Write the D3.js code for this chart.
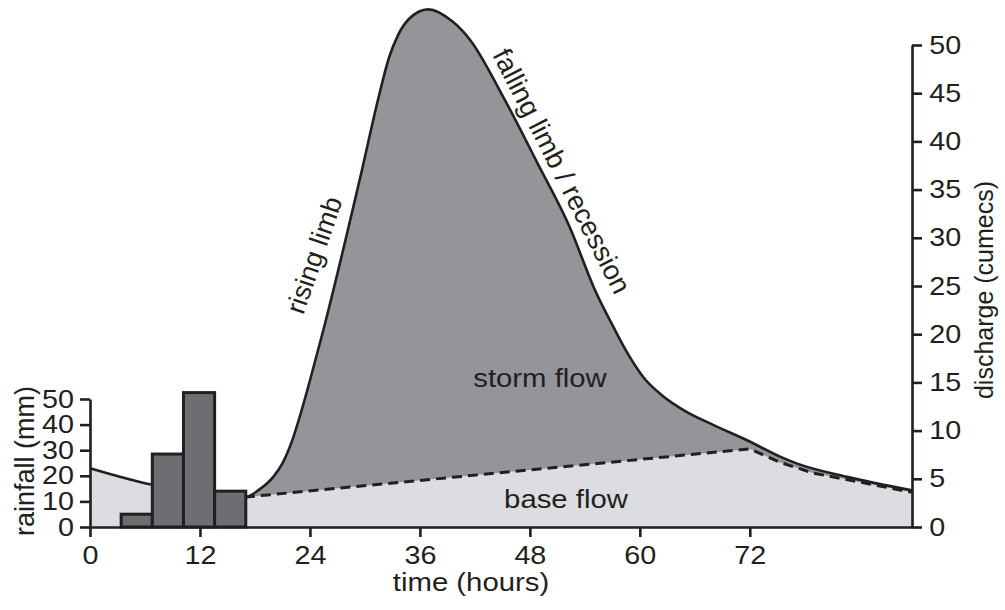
<!DOCTYPE html>
<html>
<head>
<meta charset="utf-8">
<script src="https://cdn.jsdelivr.net/npm/d3@7"></script>
<style>
body { margin: 0; background: #fff; }
text { font-family: "Liberation Sans", Arial, sans-serif; fill: #231f20; }
</style>
</head>
<body>
<svg id="chart" width="1005" height="610"></svg>
<script>
// rainfall bars: start hour of each period, length of period, mm
var rainStart = [3.4, 6.8, 10.2, 13.6];
var rainHours = 3.4;
var rainfall = [5, 28.5, 52.5, 14];

// total discharge (hydrograph), hours / cumecs
var flowTime = [0, 6.7, 16.9, 18.5, 20.0, 21.0, 22.0, 23.0, 24.0, 25.4, 29.5, 31.6, 32.6, 33.6, 34.8, 36.9, 39.6, 41.5,
                45.1, 48.8, 52.4, 55.0, 57.2, 58.8, 60.5, 62.5, 65.0, 68.0, 71.7, 75.3, 77.1, 82.6, 89.7];
var discharge = [6.1, 4.4, 3.1, 3.9, 5.2, 6.6, 8.8, 11.8, 15.2, 20.2, 36.3, 45.0, 48.6, 51.0, 52.7, 53.7, 52.4, 50.5,
                 44.6, 37.8, 31.0, 24.8, 20.6, 17.8, 15.4, 13.6, 12.0, 10.6, 9.0, 7.3, 6.6, 5.2, 3.8];

// base flow separation line (dashed)
var baseTime = [16.9, 72, 75.3, 78.9, 89.7];
var baseFlow = [3.1, 8.1, 6.7, 5.6, 3.6];

var timeTicks = [0, 12, 24, 36, 48, 60, 72];
var rainTicks = [0, 10, 20, 30, 40, 50];
var dischargeTicks = [0, 5, 10, 15, 20, 25, 30, 35, 40, 45, 50];

var ink = "#231f20";
var svg = d3.select("#chart");

var x = d3.scaleLinear().domain([0, 89.7]).range([90, 912]);
var yRain = d3.scaleLinear().domain([0, 50]).range([527, 399]);
var yQ = d3.scaleLinear().domain([0, 50]).range([527, 45]);

var flow = flowTime.map(function(t, i) { return {t: t, q: discharge[i]}; });
var base = baseTime.map(function(t, i) { return {t: t, q: baseFlow[i]}; });

/* clip: everything above the dashed separation line */
svg.append("clipPath").attr("id", "aboveBase")
  .append("path")
  .attr("d", d3.area()
    .x(function(d) { return x(d.t); })
    .y0(0)
    .y1(function(d) { return yQ(d.q); })(base));

var underFlow = d3.area()
  .curve(d3.curveMonotoneX)
  .x(function(d) { return x(d.t); })
  .y0(yQ(0))
  .y1(function(d) { return yQ(d.q); });

// base flow (light) under whole hydrograph, storm flow on top above the dashed line
svg.append("path").attr("d", underFlow(flow)).attr("fill", "#dcdde0");
svg.append("path").attr("d", underFlow(flow)).attr("fill", "#939598")
  .attr("clip-path", "url(#aboveBase)");

svg.append("path")
  .attr("d", d3.line().curve(d3.curveMonotoneX)
    .x(function(d) { return x(d.t); })
    .y(function(d) { return yQ(d.q); })(flow))
  .attr("fill", "none").attr("stroke", ink).attr("stroke-width", 2.6);

svg.append("path")
  .attr("d", d3.line()
    .x(function(d) { return x(d.t); })
    .y(function(d) { return yQ(d.q); })(base))
  .attr("fill", "none").attr("stroke", ink).attr("stroke-width", 3)
  .attr("stroke-dasharray", "10,6");

svg.selectAll("rect.rain")
  .data(rainfall)
  .enter().append("rect")
  .attr("class", "rain")
  .attr("x", function(d, i) { return x(rainStart[i]); })
  .attr("width", function(d, i) { return x(rainStart[i] + rainHours) - x(rainStart[i]); })
  .attr("y", function(d) { return yRain(d); })
  .attr("height", function(d) { return yRain(0) - yRain(d); })
  .attr("fill", "#6d6e71").attr("stroke", ink).attr("stroke-width", 3);

function styleAxis(g) {
  g.attr("font-family", null).attr("font-size", null);
  g.selectAll("path, line").attr("stroke", ink).attr("stroke-width", 2.6);
  g.selectAll("text").style("font-size", "25px").attr("fill", ink);
}

var xAxis = svg.append("g")
  .attr("transform", "translate(0,527)")
  .call(d3.axisBottom(x).tickValues(timeTicks).tickSize(10).tickSizeOuter(0).tickPadding(9))
  .call(styleAxis);

var rainAxis = svg.append("g")
  .attr("transform", "translate(90,0)")
  .call(d3.axisLeft(yRain).tickValues(rainTicks).tickSize(10).tickSizeOuter(0).tickPadding(4))
  .call(styleAxis);

var qAxis = svg.append("g")
  .attr("transform", "translate(912,0)")
  .call(d3.axisRight(yQ).tickValues(dischargeTicks).tickSize(10).tickSizeOuter(0).tickPadding(5))
  .call(styleAxis);

// stretch tick labels a bit horizontally, like the original lettering
svg.selectAll(".tick text").attr("transform", "scale(1.15,1)");

function label(txt, cx, cy, angle, size, sx) {
  svg.append("text")
    .attr("transform", "translate(" + cx + "," + cy + ") scale(" + sx + ",1) rotate(" + angle + ")")
    .attr("text-anchor", "middle")
    .attr("dy", "0.35em")
    .style("font-size", size + "px")
    .text(txt);
}

label("time (hours)", 471, 582, 0, 25.5, 1.15);
label("storm flow", 540, 378, 0, 25.5, 1.15);
label("base flow", 566, 499, 0, 25.5, 1.15);
label("rainfall (mm)", 25, 461, -90, 27, 1);
label("discharge (cumecs)", 984, 290, -90, 25, 1);
label("rising limb", 314, 255, -71, 27, 1);
label("falling limb / recession", 562, 171, 63, 27.5, 1);
</script>
</body>
</html>
